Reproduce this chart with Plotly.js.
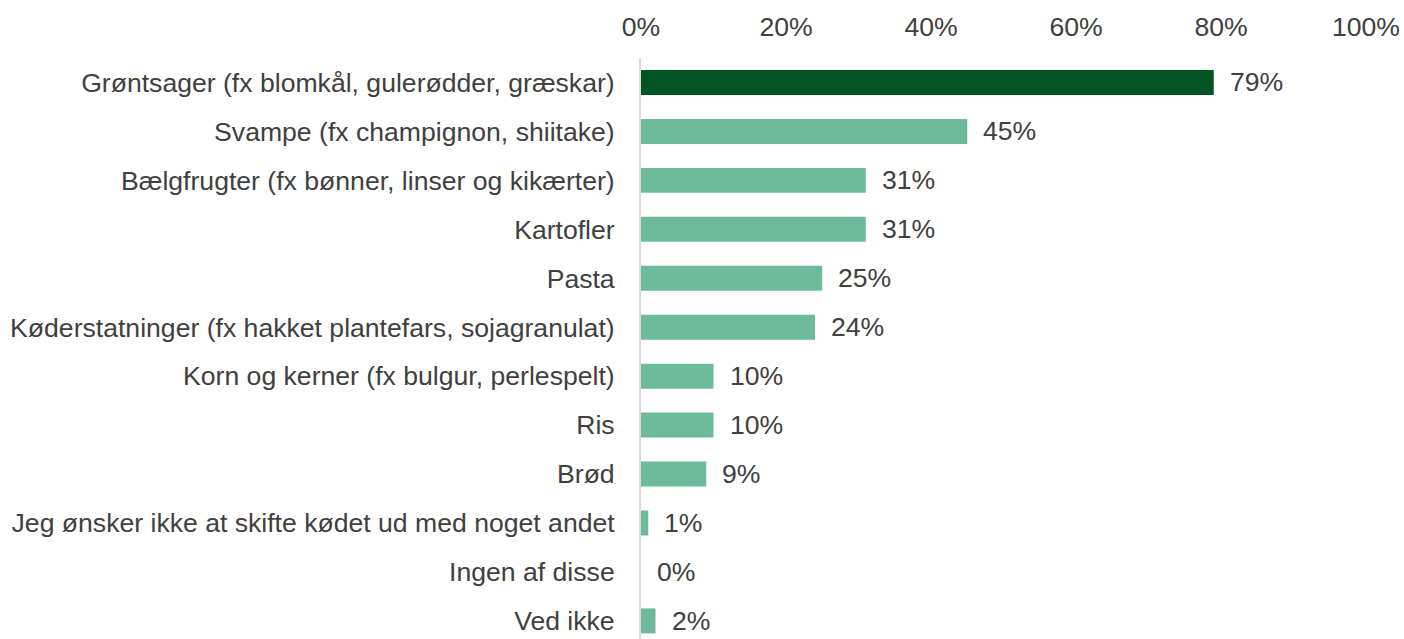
<!DOCTYPE html>
<html>
<head>
<meta charset="utf-8">
<script src="https://cdn.plot.ly/plotly-3.0.1.min.js"></script>
<style>html,body{margin:0;padding:0;background:#fff;}#chart{width:1404px;height:639px;}</style>
</head>
<body>
<div id="chart"></div>
<script>
const categories = [
  "Grøntsager (fx blomkål, gulerødder, græskar)",
  "Svampe (fx champignon, shiitake)",
  "Bælgfrugter (fx bønner, linser og kikærter)",
  "Kartofler",
  "Pasta",
  "Køderstatninger (fx hakket plantefars, sojagranulat)",
  "Korn og kerner (fx bulgur, perlespelt)",
  "Ris",
  "Brød",
  "Jeg ønsker ikke at skifte kødet ud med noget andet",
  "Ingen af disse",
  "Ved ikke"
];
const values = [79, 45, 31, 31, 25, 24, 10, 10, 9, 1, 0, 2];
const tickValues = [0, 20, 40, 60, 80, 100];
const tickLabels = ["0%", "20%", "40%", "60%", "80%", "100%"];

const darkGreen = "#005522";
const lightGreen = "#6dbb9a";
const textColor = "#404040";
const fontFamily = "Liberation Sans, Arial, sans-serif";
const fontSize = 26.6;

const colors = values.map((v, i) => i === 0 ? darkGreen : lightGreen);

const trace = {
  type: "bar",
  orientation: "h",
  x: values,
  y: categories,
  marker: {color: colors},
  hoverinfo: "none"
};

const annotations = values.map((v, i) => ({
  x: v,
  y: categories[i],
  xref: "x",
  yref: "y",
  text: v + "%",
  showarrow: false,
  xanchor: "left",
  yanchor: "middle",
  xshift: 14,
  font: {family: fontFamily, size: fontSize, color: textColor}
}));

const layout = {
  width: 1404,
  height: 639,
  margin: {l: 641, r: 38, t: 58, b: 0, pad: 0},
  paper_bgcolor: "#ffffff",
  plot_bgcolor: "#ffffff",
  showlegend: false,
  bargap: 0.49,
  font: {family: fontFamily, size: fontSize, color: textColor},
  xaxis: {
    side: "top",
    range: [0, 100],
    tickvals: tickValues,
    ticktext: tickLabels,
    showgrid: false,
    zeroline: false,
    showline: false,
    ticks: "",
    ticklabelstandoff: 16,
    tickfont: {family: fontFamily, size: fontSize, color: textColor},
    fixedrange: true
  },
  yaxis: {
    type: "category",
    range: [11.37, -0.5],
    autorange: false,
    showgrid: false,
    zeroline: false,
    showline: true,
    linecolor: "#d9d9d9",
    linewidth: 2,
    ticks: "",
    ticklabelstandoff: 19,
    tickfont: {family: fontFamily, size: fontSize, color: textColor},
    fixedrange: true
  },
  annotations: annotations
};

Plotly.newPlot("chart", [trace], layout, {displayModeBar: false, staticPlot: true});
</script>
</body>
</html>
